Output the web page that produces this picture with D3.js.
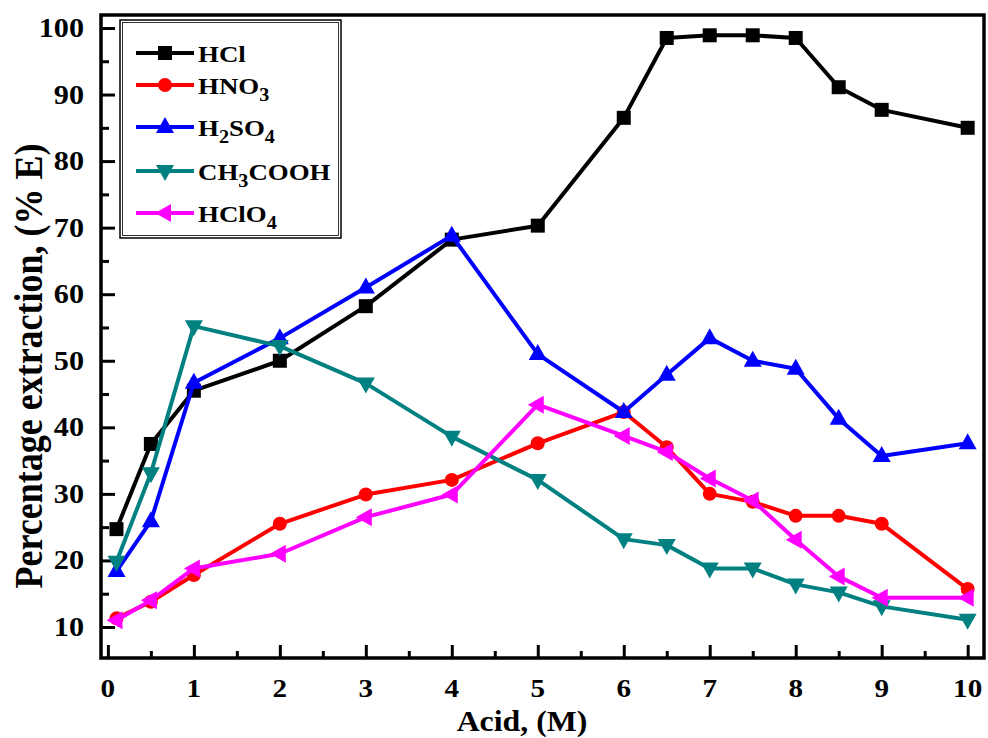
<!DOCTYPE html>
<html>
<head>
<meta charset="utf-8">
<script src="https://cdn.jsdelivr.net/npm/d3@7"></script>
<style>
  body { margin: 0; background: #fff; }
  text { font-family: "Liberation Serif", "Times New Roman", serif; font-weight: bold; fill: #000; }
</style>
</head>
<body>
<div id="chart"></div>
<script>
// acid concentration (M)
const conc = [0.1, 0.5, 1, 2, 3, 4, 5, 6, 6.5, 7, 7.5, 8, 8.5, 9, 10];

// percentage extraction per acid
const hcl    = [24.7, 37.5, 45.5, 50.0, 58.2, 68.2, 70.3, 86.5, 98.5, 98.9, 98.9, 98.5, 91.1, 87.7, 85.0];
const hno3   = [11.3, 13.8, 17.8, 25.5, 29.9, 32.1, 37.6, 42.3, 37.0, 30.0, 28.8, 26.7, 26.7, 25.5, 15.7];
const h2so4  = [18.4, 25.9, 46.7, 53.4, 61.0, 68.8, 51.0, 42.3, 47.9, 53.4, 50.0, 48.8, 41.3, 35.7, 37.6];
const ch3cooh = [19.8, 33.1, 55.2, 52.2, 46.6, 38.6, 32.1, 23.2, 22.3, 18.8, 18.8, 16.4, 15.2, 13.1, 11.1];
const hclo4  = [11.0, 14.0, 18.8, 21.0, 26.5, 29.9, 43.4, 38.7, 36.3, 32.3, 29.0, 23.1, 17.6, 14.4, 14.4];

// axis ticks
const xMajor = [0, 1, 2, 3, 4, 5, 6, 7, 8, 9, 10];
const xMinor = [0.5, 1.5, 2.5, 3.5, 4.5, 5.5, 6.5, 7.5, 8.5, 9.5];
const yMajor = [10, 20, 30, 40, 50, 60, 70, 80, 90, 100];
const yMinor = [15, 25, 35, 45, 55, 65, 75, 85, 95];

const series = [
  { name: "HCl", sub: null, tail: "", values: hcl, color: "#000000", shape: "square" },
  { name: "HNO", sub: "3", tail: "", values: hno3, color: "#ff0000", shape: "circle" },
  { name: "H", sub: "2", tail: "SO", sub2: "4", values: h2so4, color: "#0000ff", shape: "up" },
  { name: "CH", sub: "3", tail: "COOH", values: ch3cooh, color: "#008080", shape: "down" },
  { name: "HClO", sub: "4", tail: "", values: hclo4, color: "#ff00ff", shape: "left" }
];

const width = 988, height = 738;
const frame = { left: 101, right: 984, top: 15, bottom: 658 };
const stretch = 1.12;

const svg = d3.select("#chart").append("svg")
  .attr("width", width)
  .attr("height", height);

const xScale = d3.scaleLinear().domain([-0.08, 10.19]).range([frame.left, frame.right]);
const yScale = d3.scaleLinear().domain([5.34, 101.95]).range([frame.bottom, frame.top]);

// ticks (inward)
const gx = svg.append("g").attr("transform", `translate(0,${frame.bottom})`);
gx.call(d3.axisBottom(xScale).tickValues(xMajor).tickSize(-13).tickFormat(""));
gx.call(g => g.select(".domain").remove());
const gx2 = svg.append("g").attr("transform", `translate(0,${frame.bottom})`);
gx2.call(d3.axisBottom(xScale).tickValues(xMinor).tickSize(-7).tickFormat(""));
gx2.call(g => g.select(".domain").remove());

const gy = svg.append("g").attr("transform", `translate(${frame.left},0)`);
gy.call(d3.axisLeft(yScale).tickValues(yMajor).tickSize(-14).tickFormat(""));
gy.call(g => g.select(".domain").remove());
const gy2 = svg.append("g").attr("transform", `translate(${frame.left},0)`);
gy2.call(d3.axisLeft(yScale).tickValues(yMinor).tickSize(-8).tickFormat(""));
gy2.call(g => g.select(".domain").remove());

svg.selectAll(".tick line").attr("stroke", "#000").attr("stroke-width", 3);

// frame
svg.append("rect")
  .attr("x", frame.left).attr("y", frame.top)
  .attr("width", frame.right - frame.left)
  .attr("height", frame.bottom - frame.top)
  .attr("fill", "none").attr("stroke", "#000").attr("stroke-width", 3.5);

// tick labels
svg.append("g").selectAll("text").data(xMajor).join("text")
  .attr("transform", d => `translate(${xScale(d)},697) scale(${stretch},1)`)
  .attr("text-anchor", "middle")
  .attr("font-size", 26)
  .text(d => d);

svg.append("g").selectAll("text").data(yMajor).join("text")
  .attr("transform", d => `translate(84,${yScale(d) + 9}) scale(${stretch},1)`)
  .attr("text-anchor", "end")
  .attr("font-size", 27)
  .text(d => d);

// axis titles
svg.append("text")
  .attr("transform", `translate(522,731) scale(1.06,1)`)
  .attr("text-anchor", "middle")
  .attr("font-size", 30)
  .text("Acid, (M)");

svg.append("text")
  .attr("transform", `translate(42,366) rotate(-90) scale(1,${stretch})`)
  .attr("text-anchor", "middle")
  .attr("font-size", 36)
  .text("Percentage extraction, (% E)");

// marker shapes
function markerPath(shape) {
  switch (shape) {
    case "square": return "M-7,-7H7V7H-7Z";
    case "up": return "M0,-10L9,6H-9Z";
    case "down": return "M0,10L9,-6H-9Z";
    case "left": return "M-10,0L6,-9V9Z";
  }
  return null;
}

function drawMarker(g, shape, color) {
  if (shape === "circle") {
    g.append("circle").attr("r", 7).attr("fill", color);
  } else {
    g.append("path").attr("d", markerPath(shape)).attr("fill", color);
  }
}

const line = d3.line()
  .x((d, i) => xScale(conc[i]))
  .y(d => yScale(d));

series.forEach(s => {
  const g = svg.append("g");
  g.append("path")
    .datum(s.values)
    .attr("d", line)
    .attr("fill", "none")
    .attr("stroke", s.color)
    .attr("stroke-width", 4)
    .attr("stroke-linejoin", "round");
  g.selectAll("g.pt").data(s.values).join("g")
    .attr("class", "pt")
    .attr("transform", (d, i) => `translate(${xScale(conc[i])},${yScale(d)})`)
    .each(function() { drawMarker(d3.select(this), s.shape, s.color); });
});

// legend
const legendY = [53, 85, 127, 171, 213];
const legend = svg.append("g");
legend.append("rect")
  .attr("x", 120).attr("y", 20).attr("width", 221).attr("height", 218)
  .attr("fill", "#fff").attr("stroke", "#000").attr("stroke-width", 1.5);
legend.append("rect")
  .attr("x", 122.5).attr("y", 22.5).attr("width", 216).attr("height", 213)
  .attr("fill", "none").attr("stroke", "#000").attr("stroke-width", 0.8);

series.forEach((s, i) => {
  const y = legendY[i];
  const row = legend.append("g");
  row.append("line")
    .attr("x1", 136).attr("x2", 194).attr("y1", y).attr("y2", y)
    .attr("stroke", s.color).attr("stroke-width", 4);
  const m = row.append("g").attr("transform", `translate(165,${y})`);
  drawMarker(m, s.shape, s.color);
  const t = row.append("text")
    .attr("transform", `translate(198,${y + 9}) scale(${stretch},1)`)
    .attr("font-size", 24);
  t.append("tspan").text(s.name);
  if (s.sub) {
    t.append("tspan").attr("font-size", 18).attr("dy", 7).text(s.sub);
    if (s.tail) t.append("tspan").attr("dy", -7).text(s.tail);
    if (s.sub2) t.append("tspan").attr("font-size", 18).attr("dy", 7).text(s.sub2);
  }
});
</script>
</body>
</html>
